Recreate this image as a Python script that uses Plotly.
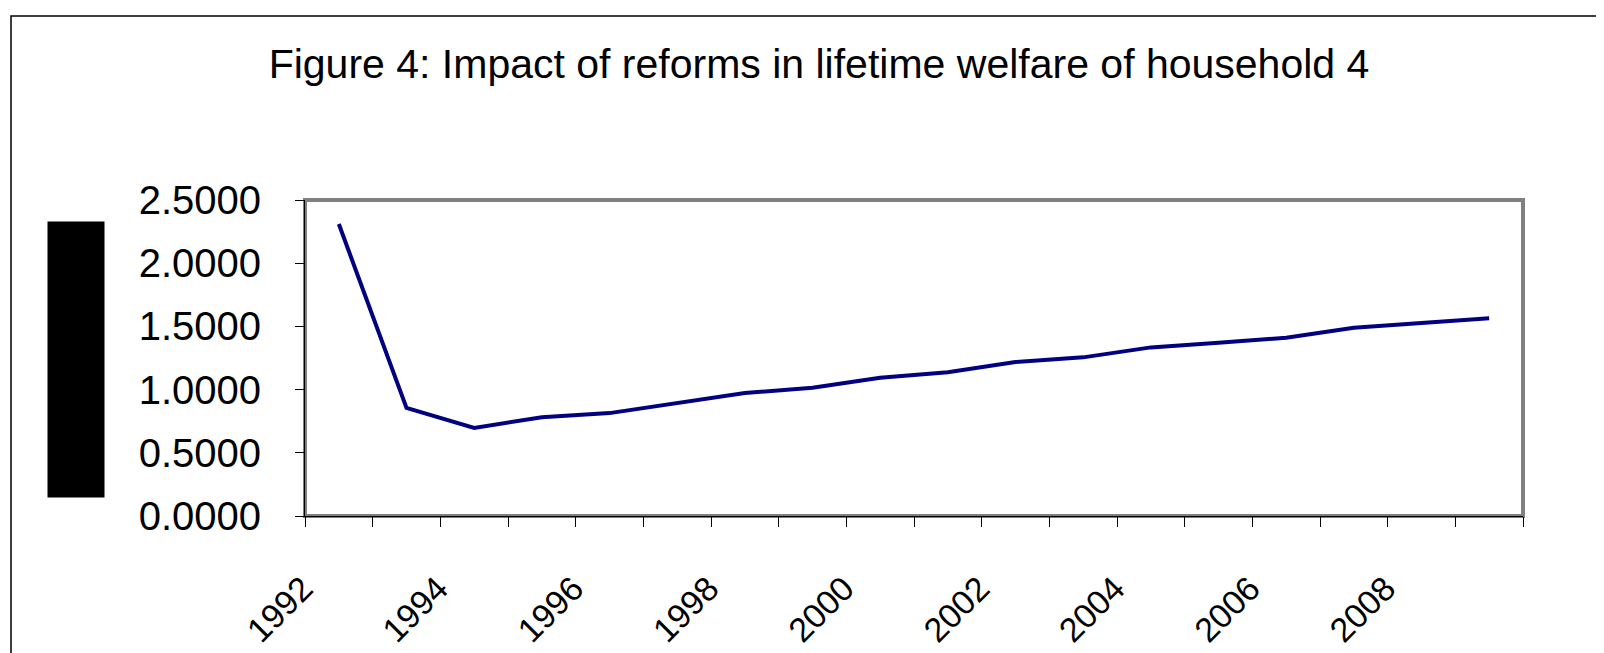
import plotly.graph_objects as go

# ---- data ----
categories = [str(y) for y in range(1992, 2010)]
welfare = [2.31, 0.855, 0.697, 0.781, 0.814, 0.894, 0.973, 1.014, 1.094,
           1.138, 1.218, 1.255, 1.334, 1.370, 1.410, 1.490, 1.528, 1.564]
tick_labels = [c if i % 2 == 0 else "" for i, c in enumerate(categories)]
y_ticks = [0.0, 0.5, 1.0, 1.5, 2.0, 2.5]

title_text = "Figure 4: Impact of reforms in lifetime welfare of household 4"
y_title_text = "Change in lifetime welfare (%)"

# plot-area pixel geometry
W, H = 1604, 653
L, R, T, B = 297, 1515, 192, 508
pw, ph = R - L, B - T


def px(x):
    return (x - L) / pw


def py(y):
    return (B - y) / ph


fig = go.Figure()
fig.add_trace(go.Scatter(
    x=categories, y=welfare, mode="lines",
    line=dict(color="#000080", width=4),
    showlegend=False, hoverinfo="x+y",
))

fig.update_layout(
    width=W, height=H,
    margin=dict(l=L, r=W - R, t=T, b=H - B, autoexpand=False),
    paper_bgcolor="white", plot_bgcolor="white",
    font=dict(family="Liberation Sans, Arial, sans-serif", color="black"),
    title=dict(text=title_text, x=811 / W, xanchor="center",
               y=1 - 55.5 / H, yanchor="middle",
               font=dict(size=41, color="black")),
    xaxis=dict(
        type="category", categoryorder="array", categoryarray=categories,
        range=[-0.5, len(categories) - 0.5],
        tickmode="array", tickvals=categories, ticktext=tick_labels,
        tickson="boundaries", ticks="outside", ticklen=10, tickcolor="black",
        tickwidth=1, tickangle=-45, ticklabelstandoff=38, ticklabelshift=-36,
        tickfont=dict(size=34, color="black"),
        showline=True, linecolor="black", linewidth=1,
        showgrid=False, zeroline=False,
    ),
    yaxis=dict(
        range=[0, 2.5], tickmode="array", tickvals=y_ticks,
        tickformat=".4f", ticks="outside", ticklen=9, tickcolor="black",
        ticklabelposition="outside", ticklabelstandoff=26,
        tickfont=dict(size=40, color="black"),
        showline=True, linecolor="black", linewidth=1,
        showgrid=False, zeroline=False,
    ),
    shapes=[
        # plot-area frame
        dict(type="rect", xref="paper", yref="paper", x0=0, x1=1, y0=0, y1=1,
             line=dict(color="#808080", width=4), layer="below"),
        # outer chart border
        dict(type="rect", xref="paper", yref="paper",
             x0=px(3), x1=px(W + 20), y0=py(H + 20), y1=py(8),
             line=dict(color="black", width=1.5), layer="below"),
    ],
    annotations=[
        dict(text=y_title_text, xref="paper", yref="paper",
             x=px(68), y=py(352), xanchor="center", yanchor="middle",
             textangle=-90, width=273, height=54, bgcolor="black",
             font=dict(size=14, color="black"), showarrow=False),
    ],
)

fig.write_html("out.html")
